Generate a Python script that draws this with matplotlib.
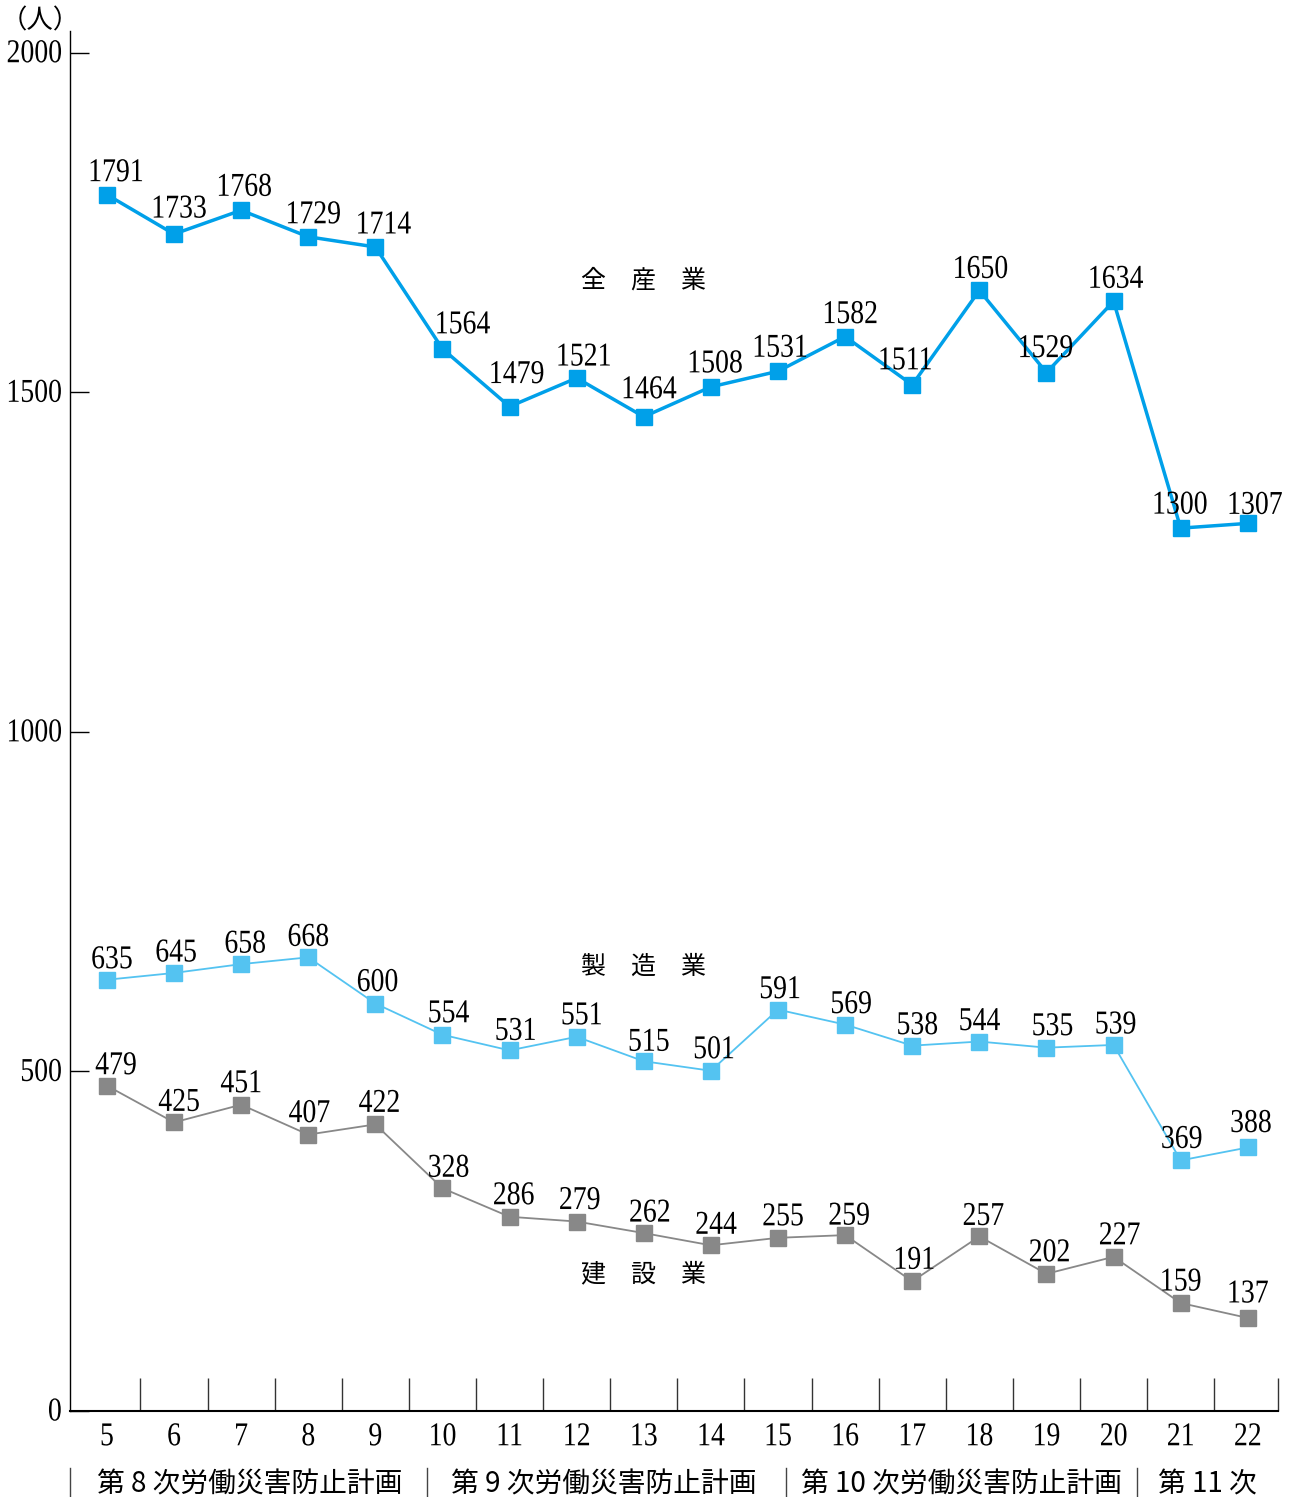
import numpy as np
import matplotlib
matplotlib.use('Agg')
import matplotlib.pyplot as plt
from matplotlib.patheffects import AbstractPathEffect
from matplotlib.transforms import Affine2D

# 年度（平成）
years = list(range(5, 23))
# 死亡者数（人）
zensangyo = [1791, 1733, 1768, 1729, 1714, 1564, 1479, 1521, 1464, 1508,
             1531, 1582, 1511, 1650, 1529, 1634, 1300, 1307]
seizo = [635, 645, 658, 668, 600, 554, 531, 551, 515, 501,
         591, 569, 538, 544, 535, 539, 369, 388]
kensetsu = [479, 425, 451, 407, 422, 328, 286, 279, 262, 244,
            255, 259, 191, 257, 202, 227, 159, 137]
plans = ['第 8 次労働災害防止計画', '第 9 次労働災害防止計画',
         '第 10 次労働災害防止計画', '第 11 次']

# ラベルのずれ (px)
dx_zen = [9, 5, 3, 5, 8, 20, 7, 7, 5, 4, 2, 5, -7, 1, -1, 2, -1, 7]
dy_zen = [24, 27, 25, 24, 24, 26, 34, 23, 29, 25, 25, 24, 26, 23, 26, 24, 25, 20]
dx_sei = [5, 2, 4, 0, 2, 6, 6, 5, 5, 3, 2, 6, 5, 0, 6, 2, 1, 3]
dy_sei = [22, 22, 22, 22, 23, 23, 21, 23, 21, 23, 22, 22, 22, 22, 23, 22, 23, 26]
dx_ken = [9, 5, 0, 1, 4, 6, 4, 3, 6, 5, 5, 4, 2, 4, 3, 6, 0, 0]
dy_ken = [22, 22, 23, 23, 23, 22, 23, 23, 22, 22, 23, 21, 23, 22, 23, 23, 23, 26]

num_font = 'Liberation Serif'
jp_font = ['Noto Sans CJK JP', 'DejaVu Sans']

c_zen = '#00a0e9'
c_sei = '#54c3f1'
c_ken = '#888888'


# 数字を縦長にする（元図の明朝数字に近づける）
class Tall(AbstractPathEffect):
    def __init__(self, sy=1.2):
        super().__init__()
        self.sy = sy

    def draw_path(self, renderer, gc, tpath, affine, rgbFace=None):
        renderer.draw_path(gc, tpath, Affine2D().scale(1, self.sy) + affine, rgbFace)


tall = [Tall(1.2)]

fig = plt.figure(figsize=(12.93, 14.97), dpi=100)
ax = fig.add_axes([70/1293, 1 - 1411/1497, 1208/1293, 1380/1497])

ax.plot(years, zensangyo, color=c_zen, lw=2.5, marker='s', ms=12, zorder=3)
ax.plot(years, seizo, color=c_sei, lw=1.3, marker='s', ms=12, zorder=3)
ax.plot(years, kensetsu, color=c_ken, lw=1.3, marker='s', ms=12, zorder=3)

for vals, dxs, dys in [(zensangyo, dx_zen, dy_zen), (seizo, dx_sei, dy_sei),
                       (kensetsu, dx_ken, dy_ken)]:
    for x, v, dx, dy in zip(years, vals, dxs, dys):
        ax.annotate(str(v), (x, v), xytext=(dx*0.72, (dy - 4)*0.72),
                    textcoords='offset points', ha='center', va='center',
                    fontsize=20, family=num_font, zorder=4, path_effects=tall)

# 系列名
ax.text(13, 1665, '全　産　業', ha='center', va='center', fontsize=18, family=jp_font)
ax.text(13, 654, '製　造　業', ha='center', va='center', fontsize=18, family=jp_font)
ax.text(13, 201, '建　設　業', ha='center', va='center', fontsize=18, family=jp_font)

ax.set_xlim(4.45, 22.45)
ax.set_ylim(0, 2032)
for s in ['top', 'right']:
    ax.spines[s].set_visible(False)
ax.spines['left'].set_linewidth(1)
ax.spines['bottom'].set_linewidth(1.5)

ax.set_yticks([0, 500, 1000, 1500, 2000])
ylabs = ax.set_yticklabels(['0', '500', '1000', '1500', '2000'], family=num_font, fontsize=20)
ax.tick_params(axis='y', direction='in', length=14, width=1, pad=6)

ax.set_xticks(years)
xlabs = ax.set_xticklabels([str(y) for y in years], family=num_font, fontsize=20)
ax.tick_params(axis='x', which='major', length=0, pad=11)
ax.set_xticks(list(np.arange(5.5, 22, 1)) + [22.45], minor=True)
ax.tick_params(axis='x', which='minor', direction='in', length=24, width=1, color='#333333')
for t in list(ylabs) + list(xlabs):
    t.set_path_effects(tall)

ax.text(-0.057, 1.007, '（人）', transform=ax.transAxes, ha='left', va='center',
        fontsize=19, family=jp_font)

# 計画の区切り
trans = ax.get_xaxis_transform()
for xs in [4.45, 9.77, 15.12, 20.35]:
    ax.plot([xs, xs], [-0.041, -0.062], color='#444444', lw=1, transform=trans, clip_on=False)
for xc, name in zip([7.13, 12.41, 17.73, 21.40], plans):
    ax.text(xc, -0.053, name, transform=trans, ha='center', va='center',
            fontsize=20, family=jp_font)

fig.savefig('out.png', dpi=100)
